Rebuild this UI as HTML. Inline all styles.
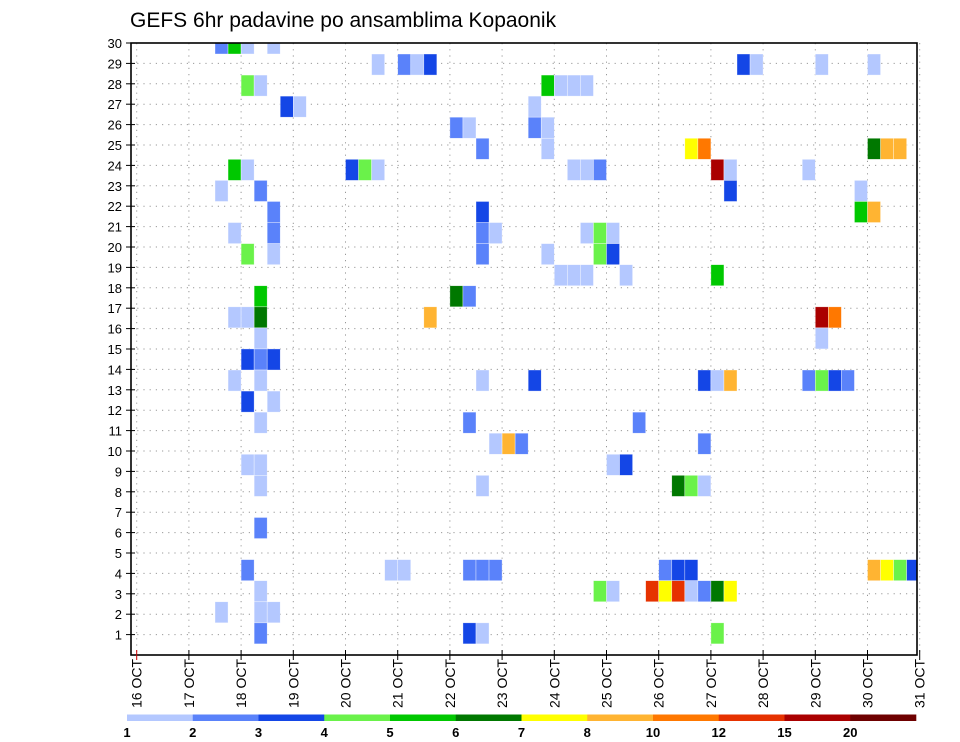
<!DOCTYPE html>
<html><head><meta charset="utf-8"><style>
body{margin:0;background:#fff;}
svg{display:block;font-family:"Liberation Sans",sans-serif;}
</style></head><body>
<svg id="chart" width="960" height="742" viewBox="0 0 960 742" xmlns="http://www.w3.org/2000/svg">
<defs><clipPath id="plotclip"><rect x="131" y="43" width="786" height="612"/></clipPath></defs>
<text x="130" y="27" font-size="21" fill="#000">GEFS 6hr padavine po ansamblima Kopaonik</text>
<g id="grid"></g>
<g id="cells" clip-path="url(#plotclip)"></g>
<rect x="131" y="43" width="786" height="612" fill="none" stroke="#000" stroke-width="1.6"/>
<g id="yaxis"></g>
<g id="xaxis"></g>
<g id="legend"></g>
</svg>
<script>
// ---- data ----
const dayLabels = ["16","17","18","19","20","21","22","23","24","25","26","27","28","29","30","31"];
const memberLabels = [1,2,3,4,5,6,7,8,9,10,11,12,13,14,15,16,17,18,19,20,21,22,23,24,25,26,27,28,29,30];
const levelBounds = [1,2,3,4,5,6,7,8,10,12,15,20,25];
const levelColors = ["#b4c8ff","#5a82fa","#1446e6","#6af24a","#00c800","#007800","#ffff00","#ffb432","#ff7800","#e63200","#aa0000","#6e0000"];
const legendLabels = ["1","2","3","4","5","6","7","8","10","12","15","20"];
// cells: ensemble member, 6-hour step since 16 OCT 00Z, precip (mm)
const cellMember = [
30,30,30,30,
29,29,29,29,29,29,29,29,
28,28,28,28,28,28,
27,27,27,
26,26,26,26,
25,25,25,25,25,25,25,
24,24,24,24,24,24,24,24,24,24,24,
23,23,23,23,
22,22,22,22,
21,21,21,21,21,21,21,
20,20,20,20,20,20,
19,19,19,19,19,
18,18,18,
17,17,17,17,17,17,
16,16,
15,15,15,
14,14,14,14,14,14,14,14,14,14,14,
13,13,
12,12,12,
11,11,11,11,
10,10,10,10,
9,9,9,9,9,
7,
5,5,5,5,5,5,5,5,5,5,5,5,5,
4,4,4,4,4,4,4,4,4,4,
3,3,3,
2,2,2,2
];
const cellStep = [
6,7,8,10,
18,20,21,22,46,47,52,56,
8,9,31,32,33,34,
11,12,30,
24,25,30,31,
26,31,42,43,56,57,58,
7,8,16,17,18,33,34,35,44,45,51,
6,9,45,55,
10,26,55,56,
7,10,26,27,34,35,36,
8,10,26,31,35,36,
32,33,34,37,44,
9,24,25,
7,8,9,22,52,53,
9,52,
8,9,10,
7,9,26,30,43,44,45,51,52,53,54,
8,10,
9,25,38,
27,28,29,43,
8,9,36,37,
9,26,41,42,43,
9,
8,19,20,25,26,27,40,41,42,56,57,58,59,
9,35,36,39,40,41,42,43,44,45,
6,9,10,
9,25,26,44
];
const cellValue = [
2.5,5.5,1.5,1.5,
1.5,2.5,1.5,3.5,3.5,1.5,1.5,1.5,
4.5,1.5,5.5,1.5,1.5,1.5,
3.5,1.5,1.5,
2.5,1.5,2.5,1.5,
2.5,1.5,7.5,11,6.5,9,9,
5.5,1.5,3.5,4.5,1.5,1.5,1.5,2.5,17.5,1.5,1.5,
1.5,2.5,3.5,1.5,
2.5,3.5,5.5,9,
1.5,2.5,2.5,1.5,1.5,4.5,1.5,
4.5,1.5,2.5,1.5,4.5,3.5,
1.5,1.5,1.5,1.5,5.5,
5.5,6.5,2.5,
1.5,1.5,6.5,9,17.5,11,
1.5,1.5,
3.5,2.5,3.5,
1.5,1.5,1.5,3.5,3.5,1.5,9,2.5,4.5,3.5,2.5,
3.5,1.5,
1.5,2.5,2.5,
1.5,9,2.5,2.5,
1.5,1.5,1.5,3.5,
1.5,1.5,6.5,4.5,1.5,
2.5,
2.5,1.5,1.5,2.5,2.5,2.5,2.5,3.5,3.5,9,7.5,4.5,3.5,
1.5,4.5,1.5,13.5,7.5,13.5,1.5,2.5,6.5,7.5,
1.5,1.5,1.5,
2.5,3.5,1.5,4.5
];
</script>
<script>
const NS="http://www.w3.org/2000/svg";
const X0=136.7, DAYW=52.2, STEPW=DAYW/4;
const FT=43, FB=655, FL=131, FR=917;
const xScale = d => X0 + d*DAYW;
const stepX = s => X0 + s*STEPW;
const labelY = m => FT + (30-m)*(FB-FT)/30;
const BANDH = (FB-FT)/29.05;
const bandTop = m => 54 + (29-m)*BANDH;
function mk(tag, attrs, parent){const e=document.createElementNS(NS,tag);for(const k in attrs)e.setAttribute(k,attrs[k]);parent.appendChild(e);return e;}
function colorFor(v){for(let i=levelBounds.length-2;i>=0;i--){if(v>=levelBounds[i])return levelColors[i];}return null;}

const grid=document.getElementById('grid');
dayLabels.forEach((d,i)=>{const x=xScale(i);
 const l=mk('line',{x1:x,y1:FT,x2:x,y2:FB,stroke:'#999','stroke-width':1,'stroke-dasharray':'1.2,5'},grid);
 
 });
memberLabels.forEach(m=>{const y=labelY(m);
 const l=mk('line',{x1:FL,y1:y,x2:FR,y2:y,stroke:'#999','stroke-width':1,'stroke-dasharray':'1.2,5'},grid);
 
 });

const cells=document.getElementById('cells');
for(let i=0;i<cellMember.length;i++){
 const c=colorFor(cellValue[i]); if(!c) continue;
 const r=mk('rect',{x:stepX(cellStep[i]),y:bandTop(cellMember[i]),width:STEPW,height:BANDH,fill:c,stroke:'rgba(255,255,255,0.6)','stroke-width':0.6},cells);
 
 
}

const ya=document.getElementById('yaxis');
memberLabels.forEach(m=>{const y=labelY(m);
 const t=mk('line',{x1:FL-5,y1:y,x2:FL+4,y2:y,stroke:'#000','stroke-width':1},ya);
 
 
 const tx=mk('text',{x:122,y:y+5,'font-size':13,'text-anchor':'end',fill:'#000'},ya);
 tx.textContent=m;
 
 });

const xa=document.getElementById('xaxis');
dayLabels.forEach((d,i)=>{const x=xScale(i);
 const t=mk('line',{x1:x,y1:FB-5,x2:x,y2:FB+5,stroke:i==0?'#c00':'#000','stroke-width':1},xa);
 
 
 const tx=mk('text',{x:0,y:0,'font-size':14,'text-anchor':'end',fill:'#000',transform:`translate(${x+5},659) rotate(-90)`},xa);
 tx.textContent=d+' OCT';
 
 });

const lg=document.getElementById('legend');
const LX0=127, LX1=916, segW=(LX1-LX0)/levelColors.length;
levelColors.forEach((c,i)=>{
 const r=mk('rect',{x:LX0+i*segW,y:714.5,width:segW+0.3,height:6.5,fill:c},lg);
 
 });
legendLabels.forEach((s,i)=>{
 const t=mk('text',{x:LX0+i*segW,y:737,'font-size':13,'font-weight':'bold','text-anchor':'middle',fill:'#000'},lg);
 t.textContent=s;
 
 });
</script>
</body></html>
